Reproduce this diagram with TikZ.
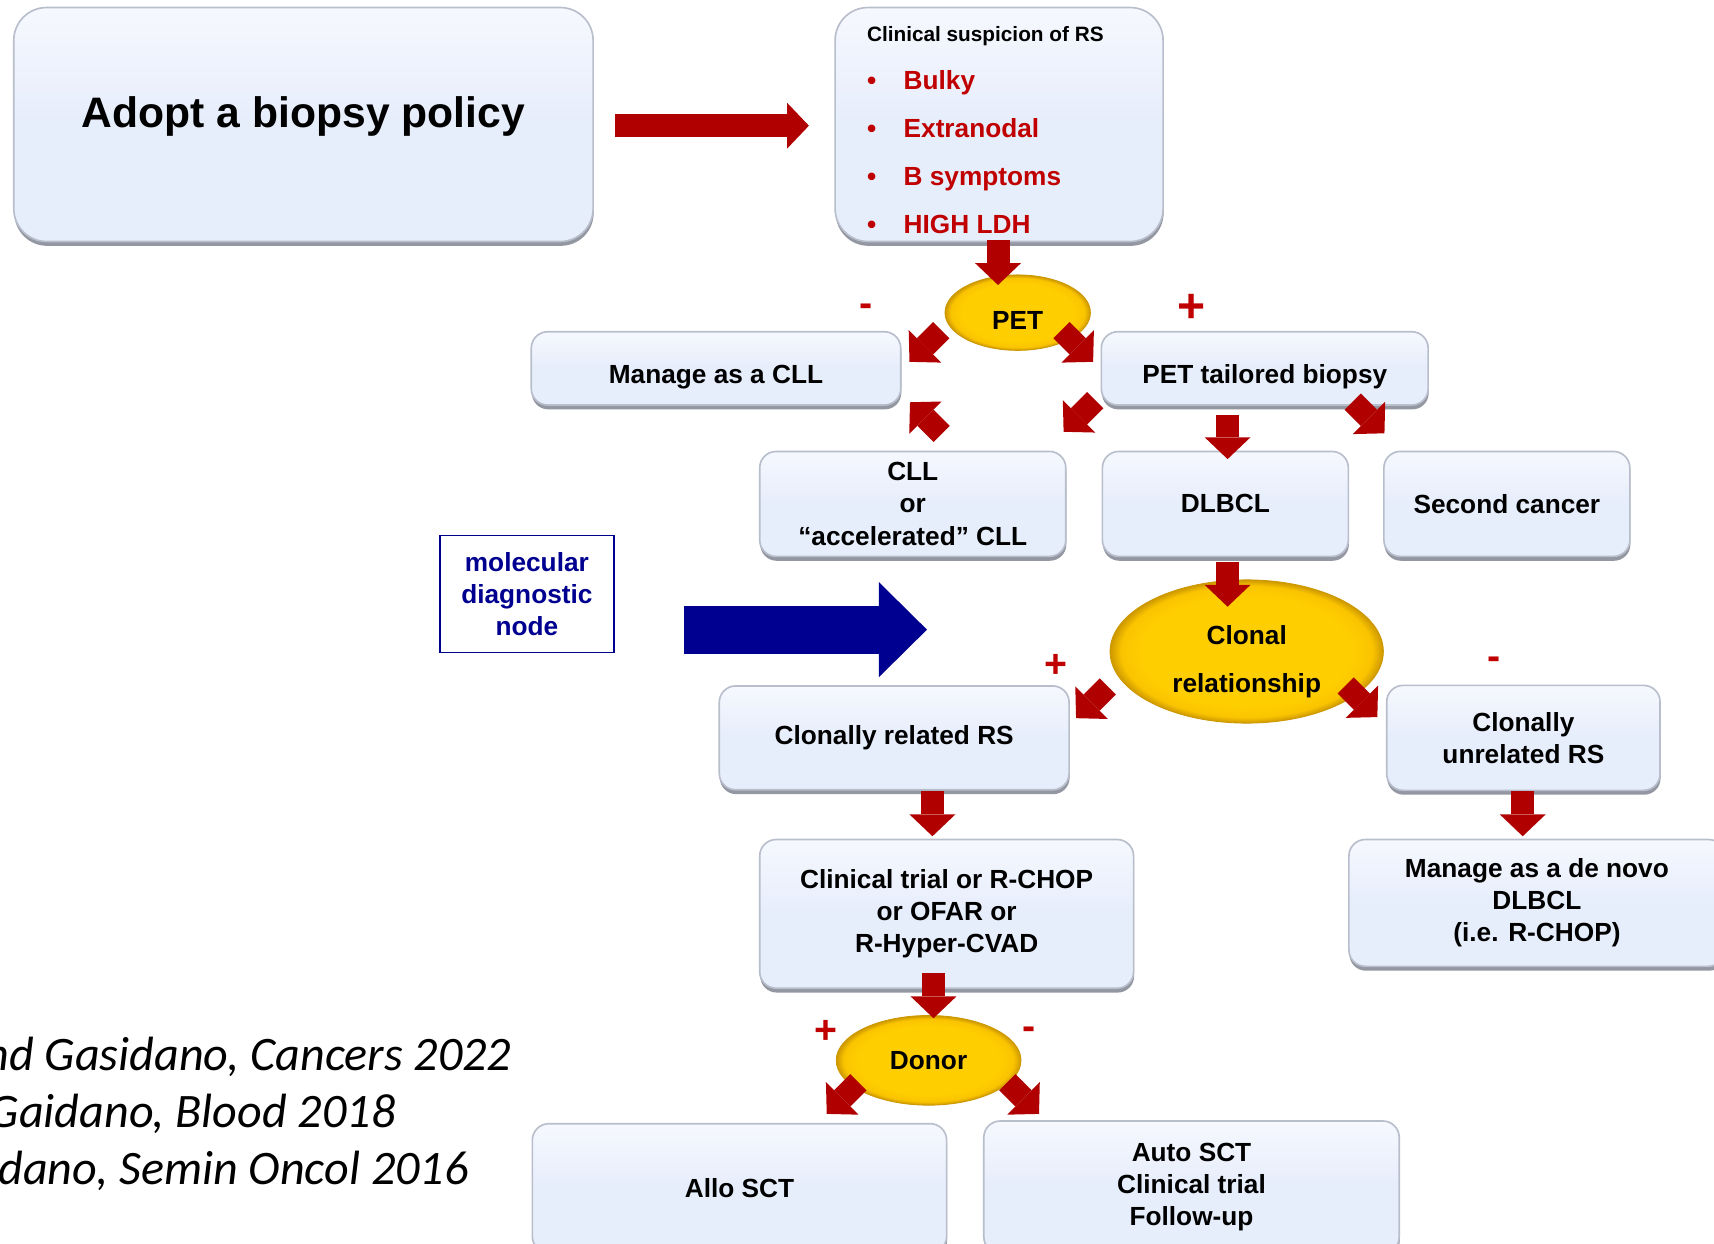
\documentclass[tikz,border=0pt]{standalone}
\usepackage{fontspec}
\setmainfont{Liberation Sans}
\newfontfamily\citefont{Carlito}
\usetikzlibrary{shapes.geometric,arrows.meta,shadows}

\definecolor{face}{RGB}{230,237,251}
\definecolor{facetop}{RGB}{246,248,254}
\definecolor{rim}{RGB}{185,190,204}
\definecolor{shadowgray}{RGB}{128,133,146}
\definecolor{arrowred}{RGB}{176,0,0}
\definecolor{textred}{RGB}{192,0,0}
\definecolor{navyblue}{RGB}{0,0,144}
\definecolor{goldA}{RGB}{255,206,0}
\definecolor{goldB}{RGB}{250,196,0}
\definecolor{goldC}{RGB}{205,152,0}

% yellow decision ovals (shape edge sits at 25bp)
\pgfdeclareradialshading{goldball}{\pgfpoint{0bp}{0bp}}{color(0bp)=(goldA); color(19bp)=(goldA); color(23bp)=(goldB); color(25bp)=(goldC); color(50bp)=(goldC)}

\newcommand{\boxfont}{\fontsize{24}{29.5}\selectfont\bfseries}
\newcommand{\sign}[1]{\textcolor{textred}{\makebox[33.5pt][l]{\textbullet}#1}}

\tikzset{
    panel/.style={rectangle, rounded corners=15pt, draw=rim, line width=1.5pt,
        top color=facetop, bottom color=face, middle color=face,
        drop shadow={shadow xshift=0.5pt, shadow yshift=-4pt, fill=shadowgray, opacity=0.85},
        align=center, font=\boxfont, inner sep=2pt},
    bigpanel/.style={panel, rounded corners=30pt},
    decision/.style={ellipse, draw=goldC, line width=0.8pt, shading=goldball,
        inner sep=0pt, align=center, font=\boxfont},
    molbox/.style={rectangle, draw=navyblue, line width=1.5pt, text=navyblue,
        align=center, font=\boxfont},
    redarrow/.style={draw=arrowred, line width=21pt,
        -{Triangle[width=42pt,length=20pt,line width=0pt]}},
    bluearrow/.style={draw=navyblue, line width=44pt,
        -{Triangle[width=87pt,length=44pt,line width=0pt]}},
    testsign/.style={text=textred, font=\fontsize{36}{36}\selectfont\bfseries, inner sep=0pt},
    cite/.style={anchor=east, inner sep=0pt, font=\citefont\itshape\fontsize{44}{50}\selectfont},
}

\begin{document}
\begin{tikzpicture}[x=1pt,y=-1pt]
    \path[fill=white, use as bounding box] (0,0) rectangle (1568,1138);

    % top row
    \node[bigpanel, minimum width=530pt, minimum height=214pt,
        font=\fontsize{39}{45}\selectfont\bfseries, text depth=22pt] (adopt) at (277.6,113.9) {Adopt a biopsy policy};
    \node[bigpanel, minimum width=300pt, minimum height=214pt] (susp) at (914,113.9) {};
    \node[anchor=north west, inner sep=0pt, align=left, font=\fontsize{24}{44}\selectfont\bfseries] (signs) at (793,24)
        {{\fontsize{19}{44}\selectfont Clinical suspicion of RS}\\
         \sign{Bulky}\\ \sign{Extranodal}\\ \sign{B symptoms}\\ \sign{HIGH LDH}};

    % PET branch
    \node[decision, minimum width=133pt, minimum height=69pt, text height=30.4pt, text depth=0pt] (pet) at (931,286) {PET};
    \node[panel, minimum width=338pt, minimum height=67pt, text height=33pt, text depth=5pt] (mancll) at (655,337) {Manage as a CLL};
    \node[panel, minimum width=299pt, minimum height=67pt, text height=33pt, text depth=5pt] (tailored) at (1157,337) {PET tailored biopsy};
    \node[panel, minimum width=280pt, minimum height=96pt] (cll) at (835,461) {CLL\\or\\“accelerated” CLL};
    \node[panel, minimum width=225pt, minimum height=96pt] (dlbcl) at (1121,461) {DLBCL};
    \node[panel, minimum width=225pt, minimum height=96pt] (second) at (1378.5,461) {Second cancer};

    % clonal relationship
    \node[molbox, minimum width=159pt, minimum height=107pt] (molec) at (482,543.5) {molecular\\diagnostic\\node};
    \node[decision, minimum width=250pt, minimum height=131pt, font=\fontsize{24}{44}\selectfont\bfseries] (clonal) at (1140.5,596)
        {\rule{0pt}{36.2pt}Clonal\\relationship};
    \node[panel, minimum width=320pt, minimum height=95pt] (related) at (818,675) {Clonally related RS};
    \node[panel, minimum width=250pt, minimum height=96pt] (unrelated) at (1393.6,675) {Clonally\\unrelated RS};
    \node[panel, minimum width=342pt, minimum height=136pt] (trial) at (866,836) {Clinical trial or R-CHOP\\or OFAR or\\R-Hyper-CVAD};
    \node[panel, minimum width=344pt, minimum height=116pt] (denovo) at (1406,826) {Manage as a de novo\\DLBCL\\(i.e. R-CHOP)};

    % donor
    \node[decision, minimum width=169pt, minimum height=82pt] (donor) at (849.5,970) {Donor};
    \node[panel, minimum width=379pt, minimum height=118pt] (allo) at (676.5,1087) {Allo SCT};
    \node[panel, minimum width=380pt, minimum height=121pt] (auto) at (1090,1086) {Auto SCT\\Clinical trial\\Follow-up};

    \node[testsign] (petneg) at (792.6,284) {-};
    \node[testsign, font=\fontsize{44}{44}\selectfont\bfseries] (petpos) at (1089.6,282.4) {+};
    \node[testsign] (clonpos) at (965.9,609) {+};
    \node[testsign] (clonneg) at (1367,607) {-};
    \node[testsign] (donpos) at (755.6,943.8) {+};
    \node[testsign] (donneg) at (941.4,945) {-};

    \node[cite] (refA) at (468,966.4) {nd Gasidano, Cancers 2022};
    \node[cite] (refB) at (362,1019.4) {Gaidano, Blood 2018};
    \node[cite] (refC) at (429,1071.4) {dano, Semin Oncol 2016};

    % block arrows
    \coordinate (adoptOut) at (563,115);
    \coordinate (suspIn) at (740,115);
    \coordinate (suspOut) at (913,219.6);
    \coordinate (petIn) at (913,260.7);
    \coordinate (petL) at (861,302);
    \coordinate (mancllIn) at (832,331);
    \coordinate (petR) at (971,302);
    \coordinate (tailoredIn) at (1000,331);
    \coordinate (cllOut) at (861.5,397);
    \coordinate (mancllIn2) at (832.5,368);
    \coordinate (tailoredL) at (1002,366);
    \coordinate (cllIn) at (973,395);
    \coordinate (tailoredD) at (1123,380);
    \coordinate (dlbclIn) at (1123,420);
    \coordinate (tailoredR) at (1237.5,367.4);
    \coordinate (secondIn) at (1266.5,396.4);
    \coordinate (dlbclOut) at (1123,514);
    \coordinate (clonalIn) at (1123,555);
    \coordinate (molOut) at (626,576);
    \coordinate (molTip) at (848,576);
    \coordinate (clonalL) at (1013.4,628);
    \coordinate (relatedIn) at (984.4,657);
    \coordinate (clonalR) at (1231,627);
    \coordinate (unrelatedIn) at (1260,656);
    \coordinate (relatedOut) at (853,724);
    \coordinate (trialIn) at (853,765);
    \coordinate (unrelatedOut) at (1393,724);
    \coordinate (denovoIn) at (1393,765);
    \coordinate (trialOut) at (854,890.5);
    \coordinate (donorIn) at (854,931.5);
    \coordinate (donorL) at (785.3,990);
    \coordinate (alloIn) at (756.3,1019);
    \coordinate (donorR) at (921.5,990);
    \coordinate (autoIn) at (950.5,1019);

    \draw[redarrow] (adoptOut) -- (suspIn);
    \draw[redarrow] (suspOut) -- (petIn);
    \draw[redarrow] (petL) -- (mancllIn);
    \draw[redarrow] (petR) -- (tailoredIn);
    \draw[redarrow] (cllOut) -- (mancllIn2);
    \draw[redarrow] (tailoredL) -- (cllIn);
    \draw[redarrow] (tailoredD) -- (dlbclIn);
    \draw[redarrow] (tailoredR) -- (secondIn);
    \draw[redarrow] (dlbclOut) -- (clonalIn);
    \draw[bluearrow] (molOut) -- (molTip);
    \draw[redarrow] (clonalL) -- (relatedIn);
    \draw[redarrow] (clonalR) -- (unrelatedIn);
    \draw[redarrow] (relatedOut) -- (trialIn);
    \draw[redarrow] (unrelatedOut) -- (denovoIn);
    \draw[redarrow] (trialOut) -- (donorIn);
    \draw[redarrow] (donorL) -- (alloIn);
    \draw[redarrow] (donorR) -- (autoIn);
\end{tikzpicture}
\end{document}
